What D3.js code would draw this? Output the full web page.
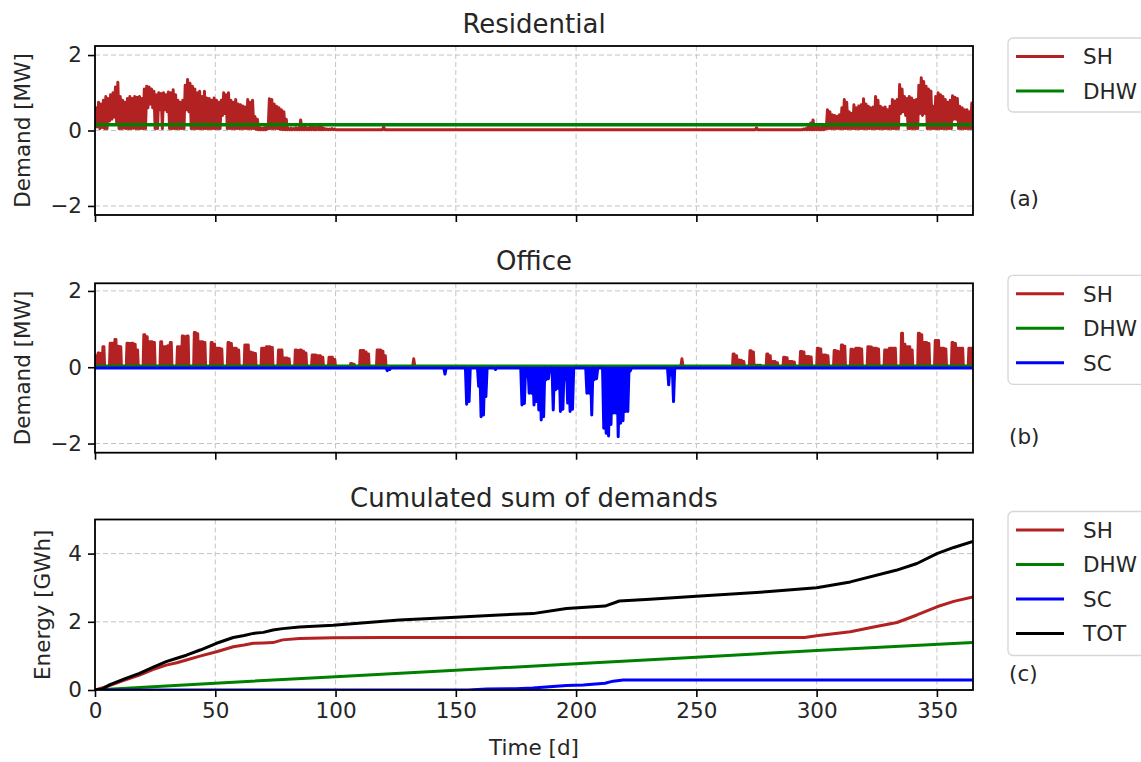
<!DOCTYPE html>
<html>
<head>
<meta charset="utf-8">
<script src="https://cdn.jsdelivr.net/npm/d3@7"></script>
<style>
  body { margin: 0; background: #fff; }
  text { font-family: "DejaVu Sans", sans-serif; fill: #262626; }
</style>
</head>
<body>
<script>
// ---- data ----
var xTicks = [0, 50, 100, 150, 200, 250, 300, 350]
var demandTicks = [-2, 0, 2]
var energyTicks = [0, 2, 4]

// residential space heating, daily max / min [MW], days 0-99 and 294-365
var resShHi1 = [
  0.6, 0.75, 0.7, 0.8, 0.9, 0.85, 0.95, 1.0, 1.15, 1.28,
  0.9, 0.8, 0.75, 0.85, 0.9, 0.85, 0.9, 0.88, 0.9, 0.85,
  1.1, 1.17, 1.15, 1.1, 1.04, 0.95, 1.0, 0.98, 1.0, 0.95,
  1.02, 1.0, 1.08, 0.95, 0.8, 0.75, 0.8, 1.2, 1.35, 1.25,
  1.17, 1.1, 1.0, 1.04, 0.9, 1.04, 0.86, 0.85, 0.8, 0.86,
  0.8, 0.75, 0.8, 1.0, 0.95, 1.0, 0.8, 0.75, 0.82, 0.7,
  0.68, 0.65, 0.62, 0.82, 0.75, 0.8, 0.37, 0.3, 0.08, 0.06,
  0.08, 0.1, 0.84, 0.82, 0.7, 0.64, 0.6, 0.55, 0.5, 0.3,
  0.05, 0.06, 0.05, 0.07, 0.06, 0.28, 0.08, 0.1, 0.06, 0.12,
  0.1, 0.08, 0.1, 0.12, 0.08, 0.05, 0.04, 0.04, 0.05, 0.04
]
var resShLo1 = [
  0.05, 0.1, 0.05, 0.08, 0.05, 0.05, 0.25, 0.3, 0.35, 0.2,
  0.05, 0.05, 0.06, 0.05, 0.05, 0.05, 0.06, 0.05, 0.05, 0.05,
  0.05, 0.05, 0.6, 0.7, 0.6, 0.05, 0.05, 0.55, 0.05, 0.55,
  0.5, 0.05, 0.05, 0.05, 0.05, 0.05, 0.05, 0.05, 0.55, 0.5,
  0.05, 0.05, 0.05, 0.05, 0.05, 0.05, 0.05, 0.05, 0.05, 0.05,
  0.05, 0.05, 0.05, 0.4, 0.45, 0.05, 0.05, 0.05, 0.05, 0.05,
  0.05, 0.05, 0.05, 0.05, 0.05, 0.05, 0.05, 0.03, 0.02, 0.02,
  0.02, 0.02, 0.05, 0.05, 0.05, 0.05, 0.05, 0.03, 0.02, 0.02,
  0.02, 0.02, 0.02, 0.02, 0.02, 0.02, 0.02, 0.02, 0.02, 0.02,
  0.02, 0.02, 0.02, 0.02, 0.02, 0.02, 0.02, 0.02, 0.02, 0.02
]
var resShSummer = [[100, 0.02], [119.5, 0.02], [120, 0.09], [120.5, 0.02],
  [274.5, 0.02], [275, 0.07], [275.5, 0.02], [293.5, 0.02]]
var resShHi2 = [
  0.04, 0.05, 0.1, 0.2, 0.28, 0.12, 0.1, 0.08, 0.12, 0.1,
  0.55, 0.5, 0.42, 0.4, 0.38, 0.42, 0.6, 0.82, 0.75, 0.5,
  0.45, 0.68, 0.6, 0.65, 0.68, 0.84, 0.7, 0.64, 0.6, 0.62,
  0.9, 0.8, 0.64, 0.6, 0.62, 0.55, 0.64, 0.82, 0.78, 0.82,
  1.22, 1.1, 0.9, 0.85, 0.9, 0.86, 0.8, 0.82, 1.2, 1.4,
  1.3, 1.17, 1.1, 1.05, 0.64, 0.9, 1.0, 0.95, 0.9, 0.82,
  0.75, 0.8, 0.92, 0.88, 0.85, 0.64, 0.6, 0.55, 0.55, 0.5,
  0.73, 0.7
]
var resShLo2 = [
  0.02, 0.02, 0.02, 0.02, 0.02, 0.02, 0.02, 0.02, 0.02, 0.02,
  0.05, 0.05, 0.05, 0.05, 0.05, 0.05, 0.05, 0.05, 0.05, 0.05,
  0.05, 0.05, 0.05, 0.05, 0.05, 0.05, 0.05, 0.05, 0.05, 0.05,
  0.05, 0.05, 0.05, 0.05, 0.05, 0.05, 0.05, 0.05, 0.05, 0.05,
  0.05, 0.45, 0.5, 0.4, 0.05, 0.05, 0.05, 0.05, 0.05, 0.45,
  0.4, 0.45, 0.05, 0.05, 0.05, 0.05, 0.05, 0.05, 0.05, 0.05,
  0.05, 0.05, 0.05, 0.3, 0.3, 0.05, 0.05, 0.05, 0.05, 0.05,
  0.05, 0.05
]
var resDhw = [[0, 0.15], [365, 0.15]]

// office space heating, daily max [MW], days 0-124 and 258-365 (weekends off)
var offShHi1 = [
  0.3, 0.37, 0.36, 0.54, 0, 0, 0.63,
  0.63, 0.73, 0.55, 0.54, 0, 0, 0.63,
  0.62, 0.63, 0.6, 0.45, 0, 0, 0.85,
  0.8, 0.67, 0.67, 0.65, 0, 0, 0.67,
  0.54, 0.54, 0.56, 0.65, 0, 0, 0.54,
  0.54, 0.82, 0.8, 0.82, 0, 0, 0.91,
  0.88, 0.67, 0.67, 0.65, 0, 0, 0.65,
  0.6, 0.5, 0.5, 0.48, 0, 0, 0.65,
  0.62, 0.5, 0.5, 0.45, 0, 0, 0.58,
  0.58, 0.4, 0.38, 0.36, 0, 0, 0.5,
  0.5, 0.54, 0.54, 0.52, 0, 0, 0.45,
  0.45, 0.24, 0.24, 0.22, 0, 0, 0.45,
  0.44, 0.45, 0.42, 0.37, 0, 0, 0.32,
  0.32, 0.3, 0.3, 0.26, 0, 0, 0.26,
  0.26, 0.2, 0, 0, 0, 0, 0,
  0, 0.1, 0.08, 0, 0, 0.44, 0.44,
  0.4, 0.35, 0, 0, 0, 0.45, 0.45,
  0.42, 0.3, 0, 0, 0, 0
]
var offShSummer = [[125, 0], [132, 0], [132.5, 0.22], [133, 0],
  [243.5, 0], [244, 0.22], [244.5, 0], [257.5, 0]]
var offShHi2 = [
  0, 0, 0, 0, 0, 0, 0,
  0.35, 0.3, 0.19, 0.18, 0.15, 0, 0,
  0.43, 0.4, 0.05, 0.05, 0.05, 0, 0,
  0.35, 0.3, 0.15, 0.15, 0.12, 0, 0,
  0.26, 0.25, 0.15, 0.15, 0.14, 0, 0,
  0.41, 0.4, 0.28, 0.28, 0.27, 0, 0,
  0.5, 0.48, 0.32, 0.32, 0.3, 0, 0,
  0.44, 0.42, 0.4, 0.58, 0.55, 0, 0,
  0.47, 0.46, 0.5, 0.5, 0.48, 0, 0,
  0.54, 0.53, 0.5, 0.5, 0.48, 0, 0,
  0.45, 0.45, 0.5, 0.5, 0.5, 0, 0,
  0.89, 0.6, 0.54, 0.54, 0.45, 0, 0,
  0.89, 0.85, 0.65, 0.65, 0.62, 0, 0,
  0.7, 0.7, 0.5, 0.5, 0.48, 0, 0,
  0.65, 0.62, 0.5, 0.5, 0.5, 0, 0,
  0.5, 0.5, 0.48
]
var offDhw = [[0, 0.03], [365, 0.03]]
// office space cooling, [day, daily min MW]
var offScBase = -0.02
var offSc = [[121, -0.09], [122, -0.06], [145, -0.18], [154, -0.97], [155, -0.9],
  [159, -0.5], [160, -1.3], [161, -1.25], [162, -0.77], [166, -0.06],
  [177, -0.99], [178, -0.95], [179, -0.25], [180, -0.68], [181, -0.68],
  [182, -0.99], [183, -0.9], [184, -1.12], [185, -1.38], [186, -1.3],
  [187, -0.33], [188, -0.3], [190, -1.12], [191, -0.59], [192, -0.55],
  [193, -1.16], [194, -1.1], [195, -0.33], [196, -0.94], [197, -1.16],
  [198, -1.1], [204, -0.68], [205, -0.68], [206, -1.25], [207, -0.33],
  [208, -0.3], [211, -1.6], [212, -1.73], [213, -1.8], [214, -1.5],
  [215, -1.2], [216, -1.2], [217, -1.82], [218, -1.47], [219, -1.4],
  [220, -1.16], [221, -1.16], [222, -0.1], [238, -0.46], [239, -0.2], [240, -0.9]]

// cumulated sums [day, GWh]
var cumSh = [[0, 0], [6, 0.13], [12, 0.28], [18.5, 0.44], [24, 0.6], [29.6, 0.73],
  [34, 0.8], [38, 0.88], [44, 1.0], [50.5, 1.12], [57.5, 1.27], [62, 1.32],
  [65.8, 1.37], [70, 1.38], [74, 1.39], [78, 1.47], [85, 1.51], [99, 1.53],
  [120, 1.54], [295, 1.54], [300, 1.59], [314, 1.71], [323.7, 1.85],
  [333.4, 1.98], [341.7, 2.2], [350, 2.44], [357, 2.6], [365, 2.73]]
var cumDhw = [[0, 0], [50, 0.2], [100, 0.39], [150, 0.58], [200, 0.77],
  [250, 0.96], [300, 1.16], [365, 1.39]]
var cumSc = [[0, 0], [155, 0], [163, 0.03], [175, 0.04], [182, 0.06], [196, 0.13],
  [203, 0.15], [212, 0.2], [215.4, 0.26], [219.6, 0.29], [365, 0.29]]
var cumTot = [[0, 0], [3, 0.03], [6, 0.15], [12, 0.32], [18.5, 0.49], [24, 0.66],
  [29.6, 0.83], [34, 0.93], [38, 1.02], [44, 1.18], [50.5, 1.37], [57.5, 1.54],
  [62, 1.6], [65.8, 1.66], [70, 1.69], [74, 1.76], [78, 1.8], [85, 1.85],
  [99, 1.9], [126.5, 2.05], [150, 2.13], [168, 2.2], [182, 2.24], [196, 2.39],
  [212, 2.46], [218, 2.61], [230.7, 2.66], [250, 2.75], [279, 2.88], [300, 3.0],
  [314, 3.17], [333, 3.51], [341.7, 3.71], [350, 4.0], [357, 4.18], [365, 4.36]]

var colors = { SH: "#b22222", DHW: "#008000", SC: "#0000ff", TOT: "#000000" }

// ---- drawing ----
var W = 1141, H = 762
var left = 95, right = 973
var font = 21.5

var d = d3.select("body").append("svg")
    .attr("width", W)
    .attr("height", H)

var x = d3.scaleLinear().domain([0, 365]).range([left, right])

// daily hi/lo pairs -> one point per half day
function zigzag(start, hi, lo) {
    var pts = []
    hi.forEach(function (v, i) {
        pts.push([start + i, lo ? lo[i] : 0])
        pts.push([start + i + 0.5, v])
    })
    return pts
}

// office days: off at night, on during working hours
function workdays(start, hi) {
    var pts = []
    hi.forEach(function (v, i) {
        pts.push([start + i, 0], [start + i + 0.3, v], [start + i + 0.7, v])
    })
    pts.push([start + hi.length, 0])
    return pts
}

function spikes(list, base) {
    var pts = [[0, base]]
    list.forEach(function (p) {
        pts.push([p[0], base], [p[0] + 0.5, p[1]], [p[0] + 1, base])
    })
    pts.push([365, base])
    return pts
}

function panel(p) {
    var y = d3.scaleLinear().domain(p.yDomain).range([p.bottom, p.top])
    var g = d.append("g")

    // grid
    g.selectAll(".gx").data(xTicks).enter().append("line")
        .attr("x1", x).attr("x2", x)
        .attr("y1", p.top).attr("y2", p.bottom)
        .attr("stroke", "#c4c4c4").attr("stroke-width", 1)
        .attr("stroke-dasharray", "5,3")
    g.selectAll(".gy").data(p.yTicks).enter().append("line")
        .attr("x1", left).attr("x2", right)
        .attr("y1", y).attr("y2", y)
        .attr("stroke", "#c4c4c4").attr("stroke-width", 1)
        .attr("stroke-dasharray", "5,3")

    // series
    var line = d3.line()
        .x(function (q) { return x(q[0]) })
        .y(function (q) { return y(q[1]) })
    var clipId = "clip" + p.id
    d.append("clipPath").attr("id", clipId).append("rect")
        .attr("x", left).attr("y", p.top)
        .attr("width", right - left).attr("height", p.bottom - p.top)
    var sg = g.append("g").attr("clip-path", "url(#" + clipId + ")")
    p.series.forEach(function (s) {
        sg.append("path")
            .attr("d", line(s.pts))
            .attr("fill", "none")
            .attr("stroke", colors[s.name])
            .attr("stroke-width", s.width || 3)
            .attr("stroke-linejoin", "round")
    })

    // axes
    var ax = g.append("g")
        .attr("transform", "translate(0," + p.bottom + ")")
        .call(d3.axisBottom(x).tickValues(xTicks).tickSize(7).tickPadding(6)
            .tickFormat(p.xLabels ? d3.format("d") : ""))
    var ay = g.append("g")
        .attr("transform", "translate(" + left + ",0)")
        .call(d3.axisLeft(y).tickValues(p.yTicks).tickSize(7).tickPadding(6)
            .tickFormat(function (v) { return v < 0 ? "\u2212" + (-v) : v }))
    ;[ax, ay].forEach(function (a) {
        a.select(".domain").remove()
        a.selectAll("line").attr("stroke", "#000").attr("stroke-width", 1.6)
        a.selectAll("text").style("font-size", font + "px").attr("fill", "#262626")
            .style("font-family", "DejaVu Sans")
    })

    g.append("rect")
        .attr("x", left).attr("y", p.top)
        .attr("width", right - left).attr("height", p.bottom - p.top)
        .attr("fill", "none").attr("stroke", "#000").attr("stroke-width", 1.8)

    // title and labels
    g.append("text")
        .attr("x", (left + right) / 2).attr("y", p.top - 13)
        .attr("text-anchor", "middle")
        .style("font-size", "26px")
        .text(p.title)
    g.append("text")
        .attr("transform", "translate(" + p.yLabelX + "," + (p.top + p.bottom) / 2 + ") rotate(-90)")
        .attr("text-anchor", "middle")
        .style("font-size", font + "px")
        .text(p.yLabel)
    g.append("text")
        .attr("x", 1009).attr("y", p.bottom - 9)
        .style("font-size", font + "px")
        .text(p.tag)

    // legend
    var lg = g.append("g").attr("transform", "translate(1008," + (p.top - 8) + ")")
    var n = p.series.length
    lg.append("rect")
        .attr("x", 0).attr("y", 0)
        .attr("width", 160).attr("height", 4 + n * 35)
        .attr("rx", 5)
        .attr("fill", "#fff").attr("stroke", "#d6d6d6").attr("stroke-width", 1.3)
    p.series.forEach(function (s, i) {
        var yy = 18.5 + i * 34.5
        lg.append("line")
            .attr("x1", 8).attr("x2", 56)
            .attr("y1", yy).attr("y2", yy)
            .attr("stroke", colors[s.name]).attr("stroke-width", 3)
        lg.append("text")
            .attr("x", 75).attr("y", yy)
            .attr("dy", "0.36em")
            .style("font-size", font + "px")
            .text(s.name)
    })
    return y
}

panel({
    id: "a", title: "Residential", tag: "(a)",
    top: 46, bottom: 215, yDomain: [-2.24, 2.24], yTicks: demandTicks,
    yLabel: "Demand [MW]", yLabelX: 30,
    series: [
        { name: "SH", pts: zigzag(0, resShHi1, resShLo1).concat(resShSummer, zigzag(294, resShHi2, resShLo2)) },
        { name: "DHW", pts: resDhw, width: 3.5 }
    ]
})

panel({
    id: "b", title: "Office", tag: "(b)",
    top: 283.3, bottom: 452.7, yDomain: [-2.24, 2.2], yTicks: demandTicks,
    yLabel: "Demand [MW]", yLabelX: 30,
    series: [
        { name: "SH", pts: workdays(0, offShHi1).concat(offShSummer, workdays(258, offShHi2)) },
        { name: "DHW", pts: offDhw },
        { name: "SC", pts: spikes(offSc, offScBase) }
    ]
})

panel({
    id: "c", title: "Cumulated sum of demands", tag: "(c)",
    top: 519.5, bottom: 690, yDomain: [0, 5], yTicks: energyTicks,
    yLabel: "Energy [GWh]", yLabelX: 50, xLabels: true,
    series: [
        { name: "SH", pts: cumSh },
        { name: "DHW", pts: cumDhw },
        { name: "SC", pts: cumSc },
        { name: "TOT", pts: cumTot }
    ]
})

d.append("text")
    .attr("x", (left + right) / 2).attr("y", 755)
    .attr("text-anchor", "middle")
    .style("font-size", font + "px")
    .text("Time [d]")
</script>
</body>
</html>
